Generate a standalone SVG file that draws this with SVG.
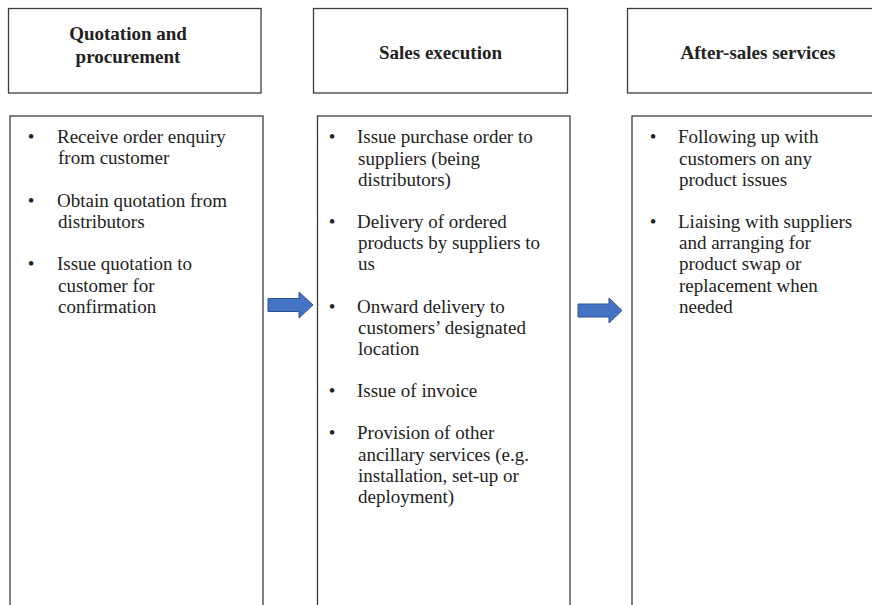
<svg xmlns="http://www.w3.org/2000/svg" width="872" height="605" viewBox="0 0 872 605">
<style>
.box{fill:#fff;stroke:#3c3c3c;stroke-width:1.3}
.hd{font-family:"Liberation Serif","Times New Roman",serif;font-size:19px;font-weight:bold;fill:#222;text-anchor:middle}
.tx{font-family:"Liberation Serif","Times New Roman",serif;font-size:19px;fill:#222}
.bl{font-family:"Liberation Serif","Times New Roman",serif;font-size:19px;fill:#222;text-anchor:middle}
.arr{fill:#4472C4;stroke:#2F528F;stroke-width:1}
</style>
<rect x="0" y="0" width="872" height="605" fill="#fff"/>
<g id="header-quotation">
<rect class="box" x="8.5" y="8.5" width="252.5" height="84.5"/>
<text class="hd" x="128" y="40">Quotation and</text>
<text class="hd" x="128" y="63">procurement</text>
</g>
<g id="header-sales">
<rect class="box" x="313.5" y="8.5" width="254" height="84.5"/>
<text class="hd" x="440.5" y="59">Sales execution</text>
</g>
<g id="header-aftersales">
<rect class="box" x="627.5" y="8.5" width="262" height="84.5"/>
<text class="hd" x="758" y="59">After-sales services</text>
</g>
<g id="content-quotation">
<rect class="box" x="10" y="116" width="253" height="510"/>
<text class="bl" x="31" y="143">•</text>
<text class="tx" x="57" y="143">Receive order enquiry</text>
<text class="tx" x="58" y="164">from customer</text>
<text class="bl" x="31" y="207">•</text>
<text class="tx" x="57" y="207">Obtain quotation from</text>
<text class="tx" x="58" y="228">distributors</text>
<text class="bl" x="31" y="270">•</text>
<text class="tx" x="57" y="270">Issue quotation to</text>
<text class="tx" x="58" y="292">customer for</text>
<text class="tx" x="58" y="313">confirmation</text>
</g>
<g id="content-sales">
<rect class="box" x="317.5" y="116" width="252.5" height="510"/>
<text class="bl" x="332" y="143">•</text>
<text class="tx" x="357" y="143">Issue purchase order to</text>
<text class="tx" x="358" y="165">suppliers (being</text>
<text class="tx" x="358" y="186">distributors)</text>
<text class="bl" x="332" y="228">•</text>
<text class="tx" x="357" y="228">Delivery of ordered</text>
<text class="tx" x="358" y="249">products by suppliers to</text>
<text class="tx" x="358" y="270">us</text>
<text class="bl" x="332" y="313">•</text>
<text class="tx" x="357" y="313">Onward delivery to</text>
<text class="tx" x="358" y="334">customers’ designated</text>
<text class="tx" x="358" y="355">location</text>
<text class="bl" x="332" y="397">•</text>
<text class="tx" x="357" y="397">Issue of invoice</text>
<text class="bl" x="332" y="439">•</text>
<text class="tx" x="357" y="439">Provision of other</text>
<text class="tx" x="358" y="461">ancillary services (e.g.</text>
<text class="tx" x="358" y="482">installation, set-up or</text>
<text class="tx" x="358" y="503">deployment)</text>
</g>
<g id="content-aftersales">
<rect class="box" x="632" y="116" width="260" height="510"/>
<text class="bl" x="653" y="143">•</text>
<text class="tx" x="678" y="143">Following up with</text>
<text class="tx" x="679" y="165">customers on any</text>
<text class="tx" x="679" y="186">product issues</text>
<text class="bl" x="653" y="228">•</text>
<text class="tx" x="678" y="228">Liaising with suppliers</text>
<text class="tx" x="679" y="249">and arranging for</text>
<text class="tx" x="679" y="270">product swap or</text>
<text class="tx" x="679" y="292">replacement when</text>
<text class="tx" x="679" y="313">needed</text>
</g>
<g id="connectors">
<polygon class="arr" points="268,298.5 299,298.5 299,292 313,305 299,318 299,311.5 268,311.5"/>
<polygon class="arr" points="578,304 609,304 609,298 622,310.5 609,323 609,317 578,317"/>
</g>
</svg>
